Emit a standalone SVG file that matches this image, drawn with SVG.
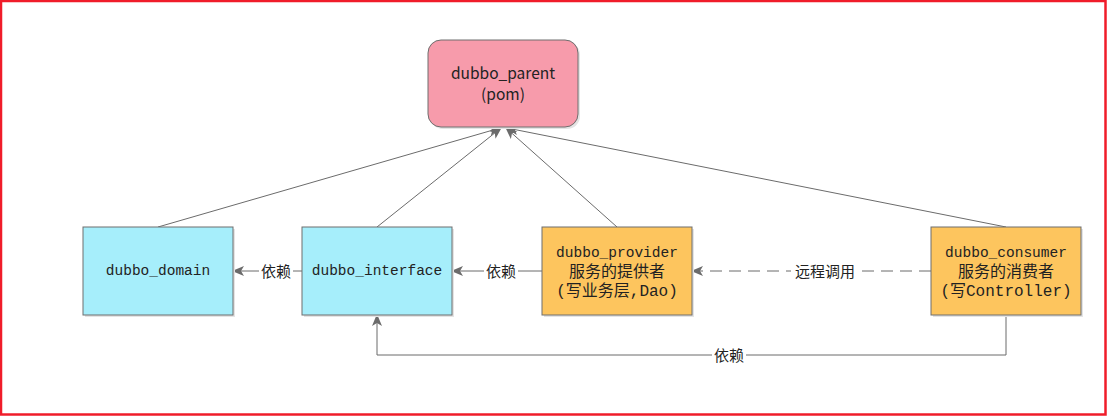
<svg xmlns="http://www.w3.org/2000/svg" width="1107" height="417" viewBox="0 0 1107 417">
<defs>
<style>
.box{stroke:#6e6e6e;stroke-width:1}
.blue{fill:#a6eefb}
.orange{fill:#fdc55e}
.pink{fill:#f79bab}
.shadow{fill:#e4e4e4}
.mono{font-family:"Liberation Mono","Noto Sans CJK SC",monospace;font-size:14.5px;fill:#222}
.cjk{font-family:"Liberation Mono","Noto Sans CJK SC",monospace;font-size:16px;fill:#222}
.sans{font-family:"Noto Sans CJK SC","Liberation Sans",sans-serif;font-size:15.5px;fill:#222}
.lbl{font-family:"Noto Sans CJK SC",sans-serif;font-size:15px;fill:#222}
.edge{fill:none;stroke:#6b6b6b;stroke-width:1}
.dash{stroke-dasharray:12 7}
.lblbg{fill:#fff}
</style>
<marker id="arr" viewBox="0 0 12 10" refX="11" refY="5" markerWidth="12" markerHeight="10" markerUnits="userSpaceOnUse" orient="auto">
<path d="M0,0 L12,5 L0,10 L3,5 Z" fill="#6b6b6b"/>
</marker>
</defs>
<rect x="1" y="1" width="1104.5" height="413.5" fill="#fff" stroke="#f01c2a" stroke-width="2.5"/>
<g id="connectors">
<line class="edge" x1="158" y1="227" x2="500" y2="128" marker-end="url(#arr)"/>
<line class="edge" x1="377" y1="227" x2="501" y2="128" marker-end="url(#arr)"/>
<line class="edge" x1="617" y1="227" x2="506" y2="128" marker-end="url(#arr)"/>
<line class="edge" x1="1006" y1="227" x2="507" y2="128" marker-end="url(#arr)"/>
<line class="edge" x1="302" y1="271" x2="233" y2="271" marker-end="url(#arr)"/>
<rect class="lblbg" x="259" y="261" width="34" height="20"/>
<text class="lbl" x="276" y="276.5" text-anchor="middle">依赖</text>
<line class="edge" x1="542" y1="271" x2="452" y2="271" marker-end="url(#arr)"/>
<rect class="lblbg" x="484" y="261" width="34" height="20"/>
<text class="lbl" x="501" y="276.5" text-anchor="middle">依赖</text>
<line class="edge dash" x1="931" y1="271" x2="692" y2="271" marker-end="url(#arr)"/>
<rect class="lblbg" x="791" y="261" width="68" height="20"/>
<text class="lbl" x="825" y="276.5" text-anchor="middle">远程调用</text>
<polyline class="edge" points="1006,315 1006,355 377,355 377,315" marker-end="url(#arr)"/>
<rect class="lblbg" x="712" y="345" width="34" height="20"/>
<text class="lbl" x="729" y="360.5" text-anchor="middle">依赖</text>
</g>
<g id="dubbo_parent">
<rect class="shadow" x="430" y="42" width="150" height="87" rx="13"/>
<rect class="box pink" x="428" y="40" width="150" height="87" rx="13"/>
<text class="sans" x="503" y="79" text-anchor="middle">dubbo_parent</text>
<text class="sans" x="503" y="100" text-anchor="middle">(pom)</text>
</g>
<g id="dubbo_domain">
<rect class="shadow" x="85" y="229" width="150" height="88"/>
<rect class="box blue" x="83" y="227" width="150" height="88"/>
<text class="mono" x="158" y="275" text-anchor="middle">dubbo_domain</text>
</g>
<g id="dubbo_interface">
<rect class="shadow" x="304" y="229" width="150" height="88"/>
<rect class="box blue" x="302" y="227" width="150" height="88"/>
<text class="mono" x="377" y="275" text-anchor="middle">dubbo_interface</text>
</g>
<g id="dubbo_provider">
<rect class="shadow" x="544" y="229" width="150" height="88"/>
<rect class="box orange" x="542" y="227" width="150" height="88"/>
<text class="mono" x="617" y="256.5" text-anchor="middle">dubbo_provider</text>
<text class="cjk" x="617" y="277" text-anchor="middle">服务的提供者</text>
<text class="cjk" x="617" y="295.5" text-anchor="middle">(写业务层,Dao)</text>
</g>
<g id="dubbo_consumer">
<rect class="shadow" x="933" y="229" width="150" height="88"/>
<rect class="box orange" x="931" y="227" width="150" height="88"/>
<text class="mono" x="1006" y="256.5" text-anchor="middle">dubbo_consumer</text>
<text class="cjk" x="1006" y="277" text-anchor="middle">服务的消费者</text>
<text class="cjk" x="1006" y="295.5" text-anchor="middle">(写Controller)</text>
</g>
</svg>
